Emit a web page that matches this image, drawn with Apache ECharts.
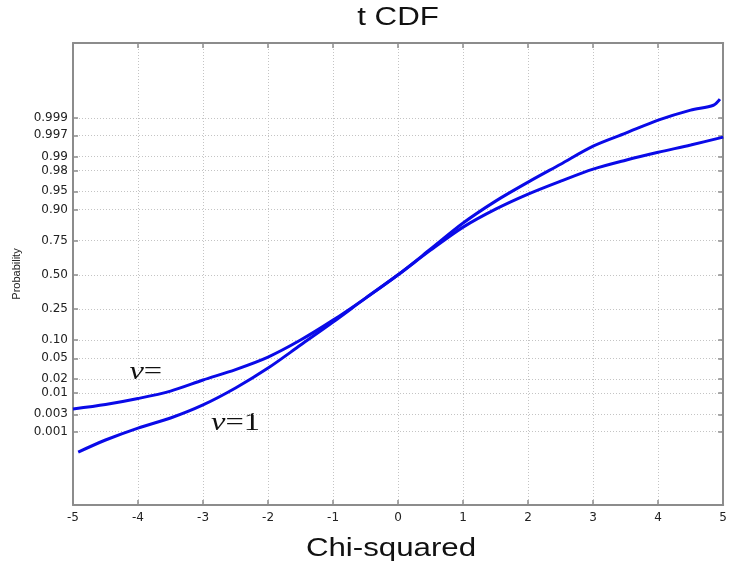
<!DOCTYPE html>
<html><head><meta charset="utf-8">
<script src="https://cdn.jsdelivr.net/npm/echarts@6/dist/echarts.min.js"></script>
<style>html,body{margin:0;padding:0;background:#fff}#c{width:730px;height:569px}</style>
</head><body><div id="c"></div>
<script>
// ---- data ----
const titleText = 't CDF';
const xName = 'Chi-squared';
const yName = 'Probability';
const xTicks = [-5, -4, -3, -2, -1, 0, 1, 2, 3, 4, 5];
const probTicks = [0.001, 0.003, 0.01, 0.02, 0.05, 0.10, 0.25, 0.50, 0.75, 0.90, 0.95, 0.98, 0.99, 0.997, 0.999];
const probTickLabels = ['0.001', '0.003', '0.01', '0.02', '0.05', '0.10', '0.25', '0.50', '0.75', '0.90', '0.95', '0.98', '0.99', '0.997', '0.999'];
const probMin = 0.0000029;   // bottom edge of plot
const probMax = 0.9999975;   // top edge of plot
const xFlat = [-5, -4.5, -4, -3.5, -3, -2.5, -2, -1.5, -1, -0.5, 0, 0.5, 1, 1.5, 2, 2.5, 3, 3.5, 4, 4.5, 5];
const pFlat = [0.0041, 0.0053, 0.0074, 0.0110, 0.0191, 0.0310, 0.0526, 0.0994, 0.186, 0.323, 0.5, 0.6865, 0.826, 0.902, 0.944, 0.9674, 0.9813, 0.9880, 0.9921, 0.9947, 0.99665];
const xSteep = [-4.92, -4.5, -4, -3.5, -3, -2.5, -2, -1.5, -1, -0.5, 0, 0.5, 1, 1.5, 2, 2.5, 3, 3.5, 4, 4.5, 4.85, 4.95];
const pSteep = [0.00024, 0.00057, 0.00127, 0.0024, 0.0052, 0.0129, 0.0331, 0.0832, 0.176, 0.323, 0.5, 0.694, 0.846, 0.9266, 0.966, 0.9853, 0.99435, 0.99736, 0.99884, 0.99941, 0.99958, 0.99973];
const annotFlat = { text: 'ν=', x: -3.88, p: 0.0270 };
const annotSteep = { text: 'ν=1', x: -2.50, p: 0.00170 };

// ---- normal-probability scale (inverse normal CDF, Acklam) ----
function norminv(p) {
  const a = [-3.969683028665376e+01, 2.209460984245205e+02, -2.759285104469687e+02, 1.383577518672690e+02, -3.066479806614716e+01, 2.506628277459239e+00];
  const b = [-5.447609879822406e+01, 1.615858368580409e+02, -1.556989798598866e+02, 6.680131188771972e+01, -1.328068155288572e+01];
  const c = [-7.784894002430293e-03, -3.223964580411365e-01, -2.400758277161838e+00, -2.549732539343734e+00, 4.374664141464968e+00, 2.938163982698783e+00];
  const d = [7.784695709041462e-03, 3.224671290700398e-01, 2.445134137142996e+00, 3.754408661907416e+00];
  const pl = 0.02425, ph = 1 - pl;
  let q, r;
  if (p < pl) { q = Math.sqrt(-2 * Math.log(p)); return (((((c[0]*q+c[1])*q+c[2])*q+c[3])*q+c[4])*q+c[5]) / ((((d[0]*q+d[1])*q+d[2])*q+d[3])*q+1); }
  if (p <= ph) { q = p - 0.5; r = q*q; return (((((a[0]*r+a[1])*r+a[2])*r+a[3])*r+a[4])*r+a[5])*q / (((((b[0]*r+b[1])*r+b[2])*r+b[3])*r+b[4])*r+1); }
  q = Math.sqrt(-2 * Math.log(1 - p)); return -(((((c[0]*q+c[1])*q+c[2])*q+c[3])*q+c[4])*q+c[5]) / ((((d[0]*q+d[1])*q+d[2])*q+d[3])*q+1);
}
const zTicks = probTicks.map(norminv);
const labelFor = v => { for (let i = 0; i < zTicks.length; i++) if (Math.abs(zTicks[i] - v) < 1e-6) return probTickLabels[i]; return ''; };

const LINE = '#0a0ae8';
const AXC = '#8c8c8c';
const GRIDC = '#c4c4c4';
const chart = echarts.init(document.getElementById('c'), null, { renderer: 'canvas' });

const yCommon = {
  type: 'value', min: norminv(probMin), max: norminv(probMax),
  axisLine: { show: true, onZero: false, lineStyle: { color: AXC, width: 2 } },
  axisTick: { show: true, inside: true, length: 5, customValues: zTicks, lineStyle: { color: AXC, width: 1.5 } },
};
const xCommon = {
  type: 'value', min: -5, max: 5, interval: 1,
  axisLine: { show: true, onZero: false, lineStyle: { color: AXC, width: 2 } },
  axisTick: { show: true, inside: true, length: 5, lineStyle: { color: AXC, width: 1.5 } },
};

const titleGraphics = [
  { type: 'text', x: 398, y: 18, scaleX: 1.25, style: { text: titleText, font: '25px "Liberation Sans"', fill: '#111', textAlign: 'center', textVerticalAlign: 'middle' } },
  { type: 'text', x: 391, y: 549, scaleX: 1.25, style: { text: xName, font: '25px "Liberation Sans"', fill: '#111', textAlign: 'center', textVerticalAlign: 'middle' } }
];

chart.setOption({
  animation: false,
  backgroundColor: '#fff',
  grid: { left: 73, right: 6, top: 43, bottom: 64, containLabel: false },
  xAxis: [
    Object.assign({}, xCommon, {
      position: 'bottom',
      axisLabel: { show: true, margin: 7, color: '#222', fontFamily: 'DejaVu Sans', fontSize: 12 },
      splitLine: { show: true, lineStyle: { color: GRIDC, type: [1, 2], width: 1 } },
    }),
    Object.assign({}, xCommon, { position: 'top', axisLabel: { show: false }, splitLine: { show: false } })
  ],
  yAxis: [
    Object.assign({}, yCommon, {
      position: 'left',
      axisLabel: { show: true, customValues: zTicks, formatter: labelFor, margin: 5, color: '#222', fontFamily: 'DejaVu Sans', fontSize: 12 },
      splitLine: { show: true, lineStyle: { color: GRIDC, type: [1, 2], width: 1 } },
      name: yName, nameLocation: 'middle', nameGap: 49,
      nameTextStyle: { color: '#222', fontFamily: 'Liberation Sans', fontSize: 11 }
    }),
    Object.assign({}, yCommon, { position: 'right', axisLabel: { show: false }, splitLine: { show: false } })
  ],
  graphic: titleGraphics,
  series: [
    { type: 'line', xAxisIndex: 0, yAxisIndex: 0, smooth: 0.3, symbol: 'none',
      lineStyle: { color: LINE, width: 3 }, data: xFlat.map((x, i) => [x, norminv(pFlat[i])]) },
    { type: 'line', xAxisIndex: 0, yAxisIndex: 0, smooth: 0.3, symbol: 'none',
      lineStyle: { color: LINE, width: 3 }, data: xSteep.map((x, i) => [x, norminv(pSteep[i])]) }
  ]
});

const rich = { nu: { fontFamily: 'Liberation Serif', fontStyle: 'italic', fontSize: 26, fill: '#111' }, r: { fontFamily: 'Liberation Serif', fontSize: 26, fill: '#111' } };
function annot(a) {
  const pt = chart.convertToPixel({ xAxisIndex: 0, yAxisIndex: 0 }, [a.x, norminv(a.p)]);
  return { type: 'text', x: pt[0], y: pt[1], scaleX: 1.25, style: { text: '{nu|ν}{r|' + a.text.slice(1) + '}', rich: rich, textAlign: 'center', textVerticalAlign: 'middle' } };
}
chart.setOption({ graphic: titleGraphics.concat([annot(annotFlat), annot(annotSteep)]) });
</script></body></html>
